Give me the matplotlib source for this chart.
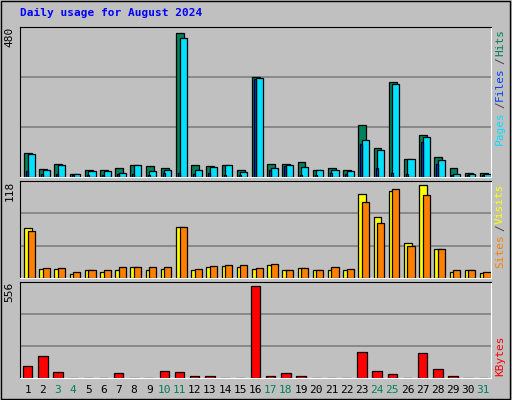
import matplotlib
matplotlib.use('Agg')
import matplotlib.pyplot as plt
from matplotlib.patches import Rectangle

days = list(range(1, 32))
weekend = [3, 4, 10, 11, 17, 18, 24, 25, 31]

hits = [79, 27, 43, 11, 24, 24, 31, 40, 35, 31, 480, 40, 37, 40, 24, 334,
        43, 43, 50, 24, 31, 24, 174, 97, 317, 60, 139, 66, 31, 14, 14]
files = [76, 24, 40, 11, 21, 21, 14, 40, 21, 24, 461, 24, 34, 40, 17, 330,
         30, 40, 34, 24, 24, 21, 123, 89, 311, 60, 132, 56, 11, 11, 11]
pages = [21, 11, 11, 8, 8, 8, 11, 11, 8, 14, 14, 11, 14, 8, 8, 326,
         24, 37, 8, 8, 14, 11, 110, 30, 14, 11, 116, 43, 8, 8, 8]
visits = [63, 12, 12, 5, 10, 8, 10, 14, 10, 12, 64, 10, 14, 15, 14, 12,
          17, 10, 13, 10, 10, 10, 106, 77, 110, 44, 118, 37, 8, 10, 6]
sites = [60, 13, 13, 8, 10, 10, 14, 14, 14, 14, 64, 12, 15, 17, 17, 13,
         18, 10, 13, 10, 14, 12, 96, 69, 112, 41, 105, 37, 10, 10, 8]
kbytes = [75, 130, 39, 3, 3, 3, 32, 3, 3, 45, 39, 14, 14, 3, 3, 556,
          14, 32, 14, 3, 3, 3, 154, 45, 26, 3, 148, 57, 14, 3, 3]

BG = '#C0C0C0'
GREEN = '#00805C'
CYAN = '#00E0FF'
BLUE = '#0040FF'
YELLOW = '#FFFF00'
ORANGE = '#FF8000'
RED = '#FF0000'
MONO = 'DejaVu Sans Mono'

fig = plt.figure(figsize=(5.12, 4.0), dpi=100, facecolor=BG)
fig.patches.append(Rectangle((0.002, 0.003), 0.994, 0.994, transform=fig.transFigure,
                             fill=False, edgecolor='black', lw=1))
fig.text(20 / 512, 1 - 13 / 400, 'Daily usage for August 2024', color='#0000FF',
         fontfamily=MONO, fontweight='bold', fontsize=8, va='center')


def make_ax(top, bottom):
    ax = fig.add_axes([20 / 512, 1 - bottom / 400, 471 / 512, (bottom - top) / 400])
    ax.set_facecolor(BG)
    ax.set_xlim(0.5, 31.5)
    ax.set_xticks([])
    ax.set_yticks([])
    for s in ['left', 'top']:
        ax.spines[s].set_color('black')
    for s in ['right', 'bottom']:
        ax.spines[s].set_color('white')
    return ax


def grid(ax, vmax):
    top = vmax * 1.04
    ax.set_ylim(0, top)
    for f in (1 / 3, 2 / 3):
        ax.axhline(top * f, color='#808080', lw=1.2, zorder=0)
    return top


def side_label(ytop, pieces):
    # pieces listed top-to-bottom, rotated text
    y = ytop
    for txt, col in pieces:
        fig.text(500 / 512, 1 - y / 400, txt, color=col, rotation=90, fontfamily=MONO,
                 fontsize=8, ha='center', va='top')
        y += len(txt) * 6.0 + 4


def max_label(ax, vmax):
    ax.text(-0.012, 1.0, str(vmax), transform=ax.transAxes, rotation=90, fontfamily=MONO,
            fontsize=8, ha='right', va='top')


ec = dict(edgecolor='black', linewidth=0.9)

ax1 = make_ax(27, 177)
grid(ax1, max(hits))
ax1.bar([d - 0.23 for d in days], hits, width=0.52, color=GREEN, align='edge', **ec)
ax1.bar([d - 0.0 for d in days], files, width=0.47, color=CYAN, align='edge', **ec)
ax1.bar([d - 0.1 for d in days], pages, width=0.13, color=BLUE, align='edge', **ec)
max_label(ax1, max(hits))
side_label(29, [('Hits', GREEN), ('/', '#404040'), ('Files', BLUE), ('/', '#404040'), ('Pages', CYAN)])

ax2 = make_ax(181, 278)
grid(ax2, max(visits))
ax2.bar([d - 0.23 for d in days], visits, width=0.52, color=YELLOW, align='edge', **ec)
ax2.bar([d - 0.0 for d in days], sites, width=0.47, color=ORANGE, align='edge', **ec)
max_label(ax2, max(visits))
side_label(184, [('Visits', YELLOW), ('/', '#404040'), ('Sites', ORANGE)])

ax3 = make_ax(282, 378)
grid(ax3, max(kbytes))
ax3.bar(days, kbytes, width=0.62, color=RED, **ec)
max_label(ax3, max(kbytes))
side_label(335, [('KBytes', RED)])

for d in days:
    ax3.text(d, -0.12, str(d), transform=ax3.get_xaxis_transform(), ha='center', va='center',
             fontfamily=MONO, fontsize=8, color=GREEN if d in weekend else 'black')

fig.savefig('out.png', dpi=100, facecolor=BG)
